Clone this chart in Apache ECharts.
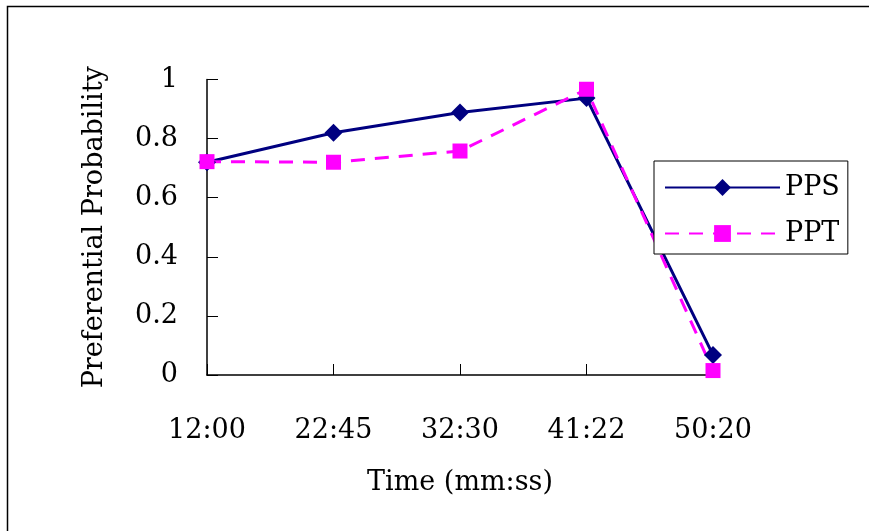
<!DOCTYPE html>
<html>
<head>
<meta charset="utf-8">
<script src="https://cdn.jsdelivr.net/npm/echarts@6/dist/echarts.min.js"></script>
<style>
  html, body { margin: 0; padding: 0; background: #fff; }
  #chart { width: 869px; height: 531px; }
</style>
</head>
<body>
<div id="chart"></div>
<script>
// Observation times (mm:ss)
const times = ['12:00', '22:45', '32:30', '41:22', '50:20'];
// Preferential probability per method
const pps = [0.72, 0.82, 0.888, 0.937, 0.068];
const ppt = [0.722, 0.72, 0.758, 0.967, 0.015];
// Y axis range and step
const yMin = 0;
const yMax = 1;
const yStep = 0.2;

const FONT = '"DejaVu Serif", serif';
const FS = 27;
const chart = echarts.init(document.getElementById('chart'), null, { renderer: 'canvas' });

chart.setOption({
  backgroundColor: '#ffffff',
  animation: false,
  graphic: [{
    type: 'rect',
    shape: { x: 7.5, y: 6.5, width: 1000, height: 1000 },
    style: { fill: 'none', stroke: '#000', lineWidth: 1.5 },
    silent: true,
    z: -1
  }],
  grid: { left: 207, right: 156, top: 79.5, bottom: 156, containLabel: false },
  legend: {
    orient: 'vertical',
    left: 654,
    top: 161,
    padding: [13, 8, 7, 10],
    itemGap: 19,
    itemWidth: 115,
    itemHeight: 21,
    borderColor: '#000',
    borderWidth: 1,
    backgroundColor: '#fff',
    textStyle: { fontFamily: FONT, fontSize: FS, color: '#000' },
    data: ['PPS', 'PPT']
  },
  xAxis: {
    type: 'category',
    data: times,
    boundaryGap: false,
    name: 'Time (mm:ss)',
    nameLocation: 'middle',
    nameGap: 94,
    nameTextStyle: { fontFamily: FONT, fontSize: FS, color: '#000' },
    axisLine: { lineStyle: { color: '#000', width: 1.5 } },
    axisTick: { inside: true, length: 11, lineStyle: { color: '#000', width: 1 } },
    axisLabel: { margin: 42, fontFamily: FONT, fontSize: FS, color: '#000' },
    splitLine: { show: false }
  },
  yAxis: {
    type: 'value',
    min: yMin,
    max: yMax,
    interval: yStep,
    name: 'Preferential Probability',
    nameLocation: 'middle',
    nameGap: 99,
    nameTextStyle: { fontFamily: FONT, fontSize: FS, color: '#000' },
    axisLine: { show: true, lineStyle: { color: '#000', width: 1.5 } },
    axisTick: { show: true, inside: true, length: 11, lineStyle: { color: '#000', width: 1 } },
    axisLabel: {
      margin: 29,
      fontFamily: FONT,
      fontSize: FS,
      color: '#000',
      formatter: v => (v === 0 || v === 1) ? String(v) : v.toFixed(1)
    },
    splitLine: { show: false }
  },
  series: [
    {
      name: 'PPS',
      type: 'line',
      data: pps,
      symbol: 'diamond',
      symbolSize: 18,
      itemStyle: { color: '#000080' },
      lineStyle: { color: '#000080', width: 3 }
    },
    {
      name: 'PPT',
      type: 'line',
      data: ppt,
      symbol: 'rect',
      symbolSize: 15,
      itemStyle: { color: '#ff00ff' },
      lineStyle: { color: '#ff00ff', width: 3, type: [14, 10] }
    }
  ]
});
</script>
</body>
</html>
